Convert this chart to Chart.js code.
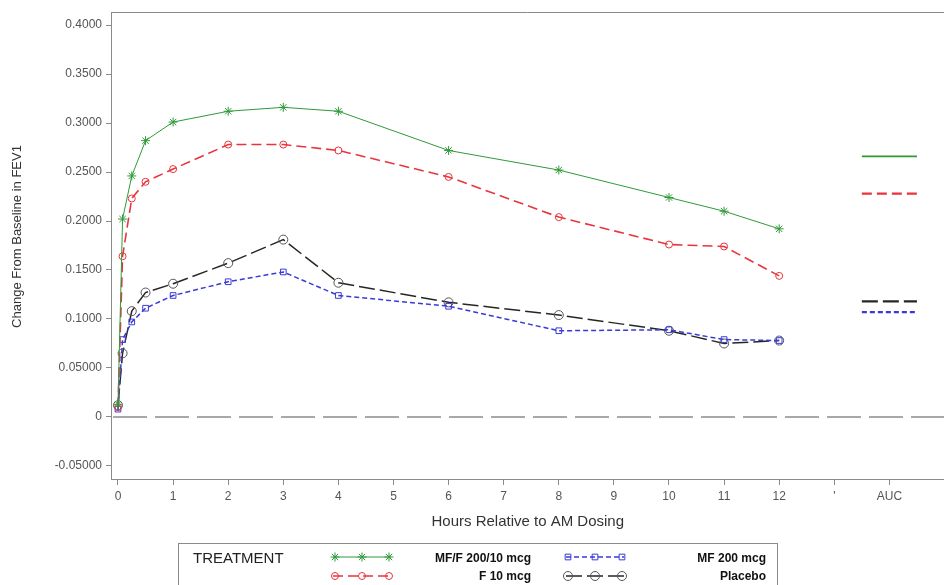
<!DOCTYPE html>
<html>
<head>
<meta charset="utf-8">
<script src="https://cdn.jsdelivr.net/npm/chart.js@4/dist/chart.umd.min.js"></script>
<style>
  html, body { margin: 0; padding: 0; background: #fff; }
  #wrap { position: relative; width: 944px; height: 585px; overflow: hidden; font-family: "Liberation Sans", Arial, sans-serif; }
  #chart { position: absolute; left: 0; top: 0; }
  .legend { position: absolute; left: 178px; top: 543px; width: 600px; height: 60px; border: 1px solid #8a8a8a; box-sizing: border-box; }
  .legend .title { position: absolute; left: 14px; top: 5px; font-size: 15px; color: #222; }
  .legend .item { position: absolute; font-size: 12px; font-weight: bold; color: #111; text-align: right; width: 150px; }
</style>
</head>
<body>
<div id="wrap">
  <canvas id="chart" width="950" height="585"></canvas>
  <div class="legend">
    <div class="title">TREATMENT</div>
    <div class="item" style="left:202px; top:7px;">MF/F 200/10 mcg</div>
    <div class="item" style="left:202px; top:25px;">F 10 mcg</div>
    <div class="item" style="left:437px; top:7px;">MF 200 mcg</div>
    <div class="item" style="left:437px; top:25px;">Placebo</div>
  </div>
</div>
<script>
const hours = [0, 0.083, 0.25, 0.5, 1, 2, 3, 4, 6, 8, 10, 11, 12];
const mff200 = [0.013, 0.202, 0.246, 0.282, 0.301, 0.312, 0.316, 0.312, 0.272, 0.252, 0.224, 0.210, 0.192];
const f10 = [0.010, 0.164, 0.223, 0.240, 0.253, 0.278, 0.278, 0.272, 0.245, 0.204, 0.176, 0.174, 0.144];
const mf200 = [0.008, 0.079, 0.097, 0.111, 0.124, 0.138, 0.148, 0.124, 0.113, 0.088, 0.089, 0.079, 0.078];
const placebo = [0.012, 0.065, 0.108, 0.127, 0.136, 0.157, 0.181, 0.137, 0.117, 0.104, 0.088, 0.075, 0.078];

// AUC values shown as short horizontal bars
const aucSpan = [13.5, 14.5];
const aucMff = 0.266;
const aucF10 = 0.228;
const aucPlacebo = 0.118;
const aucMf = 0.107;

const xLabels = ["0", "1", "2", "3", "4", "5", "6", "7", "8", "9", "10", "11", "12", "'", "AUC", ""];
const yLabels = { "-0.05": "-0.05000", "0": "0", "0.05": "0.05000", "0.1": "0.1000", "0.15": "0.1500",
  "0.2": "0.2000", "0.25": "0.2500", "0.3": "0.3000", "0.35": "0.3500", "0.4": "0.4000" };

const series = [
  { label: "MF/F 200/10 mcg", values: mff200, auc: aucMff, color: "#2f9a3a", dash: [], width: 1, style: "star", radius: 4.5 },
  { label: "F 10 mcg", values: f10, auc: aucF10, color: "#e8353d", dash: [10, 5], width: 1.6, style: "circle", radius: 3.5 },
  { label: "MF 200 mcg", values: mf200, auc: aucMf, color: "#3a3ad8", dash: [5, 3], width: 1.5, style: "rect", radius: 4 },
  { label: "Placebo", values: placebo, auc: aucPlacebo, color: "#262626", dash: [16, 5], width: 1.5, style: "circle", radius: 4.5 }
];

const datasets = [];
series.forEach(s => {
  datasets.push({
    label: s.label,
    data: hours.map((h, i) => ({ x: h, y: s.values[i] })),
    borderColor: s.color,
    borderWidth: s.width,
    borderDash: s.dash,
    pointStyle: s.style,
    pointRadius: s.radius,
    pointBorderColor: s.label === "Placebo" ? "#555" : s.color,
    pointBackgroundColor: "rgba(255,255,255,0)",
    pointBorderWidth: 1,
    showLine: true,
    tension: 0
  });
});
series.forEach(s => {
  datasets.push({
    label: s.label + " AUC",
    data: aucSpan.map(x => ({ x: x, y: s.auc })),
    borderColor: s.color,
    borderWidth: s.width + 0.6,
    borderDash: s.dash,
    pointRadius: 0,
    showLine: true
  });
});

const framePlugin = {
  id: "frame",
  beforeDatasetsDraw(chart) {
    const { ctx, chartArea, scales } = chart;
    const y0 = scales.y.getPixelForValue(0);
    ctx.save();
    ctx.strokeStyle = "#a8a8a8";
    ctx.lineWidth = 2;
    ctx.setLineDash([34, 8]);
    ctx.beginPath();
    ctx.moveTo(chartArea.left + 2, y0);
    ctx.lineTo(chartArea.right, y0);
    ctx.stroke();
    ctx.setLineDash([]);
    ctx.lineWidth = 1;
    ctx.strokeStyle = "#8a8a8a";
    ctx.beginPath();
    ctx.moveTo(chartArea.left, chartArea.top + 0.5);
    ctx.lineTo(chartArea.right, chartArea.top + 0.5);
    ctx.stroke();
    ctx.restore();
  },
  afterDraw(chart) {
    // legend samples, three markers on a line
    const { ctx } = chart;
    const spots = [[333, 557], [333, 576], [566, 557], [566, 576]];
    series.forEach((s, i) => {
      const [x0, y] = spots[i];
      ctx.save();
      ctx.strokeStyle = s.color;
      ctx.lineWidth = s.width;
      ctx.setLineDash(s.dash);
      ctx.beginPath();
      ctx.moveTo(x0, y);
      ctx.lineTo(x0 + 58, y);
      ctx.stroke();
      ctx.setLineDash([]);
      ctx.strokeStyle = s.label === "Placebo" ? "#555" : s.color;
      ctx.fillStyle = "rgba(255,255,255,0)";
      ctx.lineWidth = 1;
      for (let k = 0; k < 3; k++) {
        Chart.helpers.drawPoint(ctx, { pointStyle: s.style, radius: s.radius, rotation: 0, borderWidth: 1 }, x0 + 2 + k * 27, y);
      }
      ctx.restore();
    });
  }
};

new Chart(document.getElementById("chart"), {
  type: "scatter",
  data: { datasets: datasets },
  options: {
    responsive: false,
    animation: false,
    layout: { padding: { top: 12, right: 0, left: 0, bottom: 0 } },
    plugins: { legend: { display: false }, tooltip: { enabled: false } },
    scales: {
      x: {
        type: "linear",
        min: -0.127,
        max: 15,
        afterFit(scale) { scale.height = 106; },
        afterBuildTicks(scale) {
          scale.ticks = xLabels.map((l, i) => ({ value: i }));
        },
        grid: { drawOnChartArea: false, tickLength: 6, color: "#8a8a8a" },
        border: { color: "#8a8a8a" },
        ticks: {
          color: "#555",
          font: { family: "Liberation Sans", size: 12 },
          padding: 4,
          maxRotation: 0,
          autoSkip: false,
          callback: v => xLabels[v] !== undefined ? xLabels[v] : ""
        },
        title: {
          display: true,
          text: "Hours Relative to AM Dosing",
          color: "#333",
          font: { family: "Liberation Sans", size: 15 },
          padding: { top: 0, bottom: 54 }
        }
      },
      y: {
        min: -0.0633,
        max: 0.4133,
        afterFit(scale) { scale.width = 111; },
        afterBuildTicks(scale) {
          scale.ticks = Object.keys(yLabels).map(k => ({ value: parseFloat(k) }));
        },
        grid: { drawOnChartArea: false, tickLength: 5, color: "#8a8a8a" },
        border: { color: "#8a8a8a" },
        ticks: {
          color: "#555",
          font: { family: "Liberation Sans", size: 12 },
          padding: 4,
          callback: v => yLabels[String(Math.round(v * 100) / 100)]
        },
        title: {
          display: true,
          text: "     Change From Baseline in FEV1",
          color: "#333",
          font: { family: "Liberation Sans", size: 13 },
          padding: { top: 10, bottom: 0 }
        }
      }
    }
  },
  plugins: [framePlugin]
});
</script>
</body>
</html>
